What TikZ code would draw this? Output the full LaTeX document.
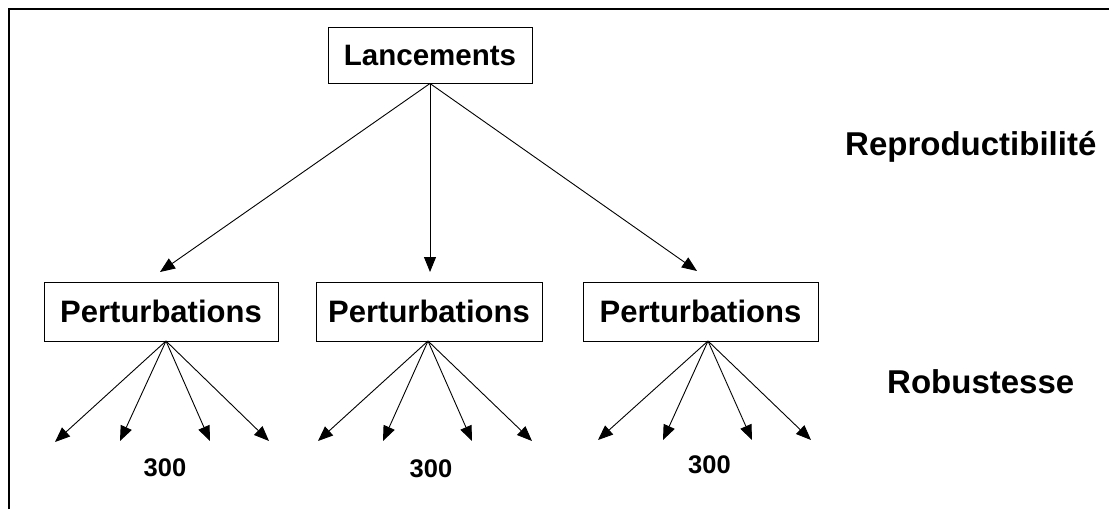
\documentclass[tikz,border=0pt]{standalone}
\usepackage{fontspec}
\setmainfont{Liberation Sans}
\usetikzlibrary{arrows.meta}
\begin{document}
\begin{tikzpicture}[x=1pt,y=-1pt,
  box/.style={draw,line width=1pt,inner sep=0pt,font=\bfseries,text depth=0pt},
  arr/.style={line width=0.9pt,-{Triangle[length=15pt,width=12pt]}},
  lbl/.style={inner sep=0pt,anchor=base,font=\bfseries}]
\useasboundingbox (0,0) rectangle (1109,509);
% frame
\draw[line width=2.5pt] (9,509) -- (9,9) -- (1109,9);
% boxes
\node[box,minimum width=204pt,minimum height=56pt,text height=21pt] (L) at (430,55)
  {\fontsize{29.5}{34}\selectfont Lancements};
\node[box,minimum width=234pt,minimum height=59pt,text height=22pt] (P1) at (161,311.5)
  {\fontsize{31}{36}\selectfont Perturbations};
\node[box,minimum width=226pt,minimum height=59pt,text height=22pt] (P2) at (429,311.5)
  {\fontsize{31}{36}\selectfont Perturbations};
\node[box,minimum width=235pt,minimum height=59pt,text height=22pt] (P3) at (700.5,311.5)
  {\fontsize{31}{36}\selectfont Perturbations};
% side labels
\node[inner sep=0pt,anchor=base west,font=\bfseries] (R1) at (845,155)
  {\fontsize{33}{38}\selectfont Reproductibilité};
\node[inner sep=0pt,anchor=base west,font=\bfseries] (R2) at (887,393)
  {\fontsize{33}{38}\selectfont Robustesse};
% 300 labels
\node[lbl] (n1) at (165,476) {\fontsize{25.5}{30}\selectfont 300};
\node[lbl] (n2) at (431,477) {\fontsize{25.5}{30}\selectfont 300};
\node[lbl] (n3) at (709.5,473) {\fontsize{25.5}{30}\selectfont 300};
% top arrows
\coordinate (e1) at (160,272);
\coordinate (e2) at (430,272);
\coordinate (e3) at (697,271);
\draw[arr] (L.south) -- (e1);
\draw[arr] (L.south) -- (e2);
\draw[arr] (L.south) -- (e3);
% apexes
\coordinate (a1) at (166,341);
\coordinate (a2) at (428,341);
\coordinate (a3) at (708,341);
% lower arrows
\coordinate (b11) at (55,442);  \coordinate (b12) at (120,441);
\coordinate (b13) at (210,441); \coordinate (b14) at (269,441);
\coordinate (b21) at (318,441); \coordinate (b22) at (383,441);
\coordinate (b23) at (472,441); \coordinate (b24) at (532,441);
\coordinate (b31) at (598,440); \coordinate (b32) at (663,440);
\coordinate (b33) at (752,440); \coordinate (b34) at (811,440);
\foreach \i in {1,2,3}{
  \foreach \j in {1,2,3,4}{
    \draw[arr] (a\i) -- (b\i\j);
  }
}
\end{tikzpicture}
\end{document}
